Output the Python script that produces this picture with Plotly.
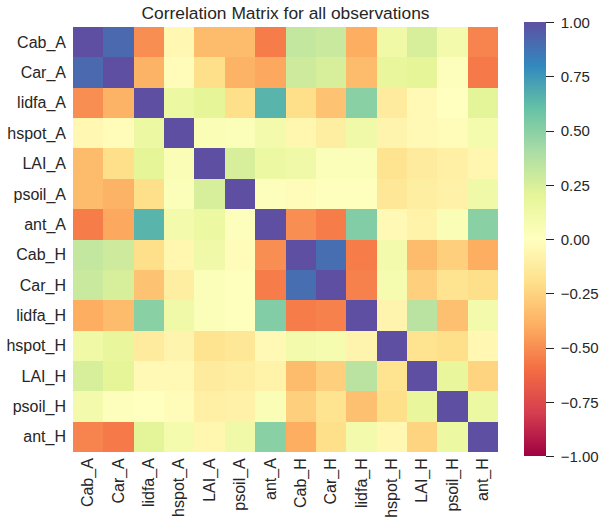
import plotly.graph_objects as go

variables = ["Cab_A", "Car_A", "lidfa_A", "hspot_A", "LAI_A", "psoil_A", "ant_A",
             "Cab_H", "Car_H", "lidfa_H", "hspot_H", "LAI_H", "psoil_H", "ant_H"]

# Pairwise Pearson correlations, one row per variable
corr_Cab_A   = [1.00, 0.91, -0.50, -0.05, -0.35, -0.35, -0.55, 0.32, 0.30, -0.40, 0.13, 0.25, 0.10, -0.53]
corr_Car_A   = [0.91, 1.00, -0.38, -0.02, -0.20, -0.38, -0.42, 0.28, 0.25, -0.35, 0.18, 0.20, 0.02, -0.56]
corr_lidfa_A = [-0.50, -0.38, 1.00, 0.15, 0.20, -0.20, 0.65, -0.20, -0.32, 0.50, -0.13, -0.04, 0.00, 0.21]
corr_hspot_A = [-0.05, -0.02, 0.15, 1.00, 0.05, 0.03, 0.10, -0.06, -0.11, 0.12, -0.07, -0.04, -0.02, 0.09]
corr_LAI_A   = [-0.35, -0.20, 0.20, 0.05, 1.00, 0.25, 0.15, 0.12, 0.03, 0.03, -0.18, -0.13, -0.10, -0.06]
corr_psoil_A = [-0.35, -0.38, -0.20, 0.03, 0.25, 1.00, 0.02, -0.02, 0.01, 0.01, -0.15, -0.11, -0.09, 0.12]
corr_ant_A   = [-0.55, -0.42, 0.65, 0.10, 0.15, 0.02, 1.00, -0.50, -0.55, 0.52, -0.04, -0.08, 0.05, 0.50]
corr_Cab_H   = [0.32, 0.28, -0.20, -0.06, 0.12, -0.02, -0.50, 1.00, 0.89, -0.55, 0.10, -0.35, -0.27, -0.40]
corr_Car_H   = [0.30, 0.25, -0.32, -0.11, 0.03, 0.01, -0.55, 0.89, 1.00, -0.54, 0.08, -0.27, -0.18, -0.20]
corr_lidfa_H = [-0.40, -0.35, 0.50, 0.12, 0.03, 0.01, 0.52, -0.55, -0.54, 1.00, -0.07, 0.35, -0.33, 0.10]
corr_hspot_H = [0.13, 0.18, -0.13, -0.07, -0.18, -0.15, -0.04, 0.10, 0.08, -0.07, 1.00, -0.18, -0.20, -0.05]
corr_LAI_H   = [0.25, 0.20, -0.04, -0.04, -0.13, -0.11, -0.08, -0.35, -0.27, 0.35, -0.18, 1.00, 0.18, -0.25]
corr_psoil_H = [0.10, 0.02, 0.00, -0.02, -0.10, -0.09, 0.05, -0.27, -0.18, -0.33, -0.20, 0.18, 1.00, 0.15]
corr_ant_H   = [-0.53, -0.56, 0.21, 0.09, -0.06, 0.12, 0.50, -0.40, -0.20, 0.10, -0.05, -0.25, 0.15, 1.00]

matrix = [corr_Cab_A, corr_Car_A, corr_lidfa_A, corr_hspot_A, corr_LAI_A, corr_psoil_A, corr_ant_A,
          corr_Cab_H, corr_Car_H, corr_lidfa_H, corr_hspot_H, corr_LAI_H, corr_psoil_H, corr_ant_H]

colorbar_ticks = [-1.0, -0.75, -0.5, -0.25, 0.0, 0.25, 0.5, 0.75, 1.0]
# two-decimal labels with a typographic minus, padded slightly away from the tick marks
colorbar_labels = ["\u00a0" + f"{v:.2f}".replace("-", "\u2212") for v in colorbar_ticks]

spectral = ["#9e0142", "#d53e4f", "#f46d43", "#fdae61", "#fee08b", "#ffffbf",
            "#e6f598", "#abdda4", "#66c2a5", "#3288bd", "#5e4fa2"]
colorscale = [[i / (len(spectral) - 1), c] for i, c in enumerate(spectral)]

text_color = "#262626"
font_family = "Liberation Sans, Arial, sans-serif"

fig = go.Figure(
    go.Heatmap(
        z=matrix,
        x=variables,
        y=variables,
        zmin=-1,
        zmax=1,
        colorscale=colorscale,
        colorbar=dict(
            tickvals=colorbar_ticks,
            ticktext=colorbar_labels,
            ticks="outside",
            ticklen=8,
            tickwidth=1.2,
            tickcolor=text_color,
            tickfont=dict(size=15, color=text_color, family=font_family),
            thickness=22,
            len=434,
            lenmode="pixels",
            x=(524 - 73) / 425,
            xanchor="left",
            xpad=0,
            y=0.5,
            yanchor="middle",
            ypad=0,
            outlinewidth=0,
        ),
        hovertemplate="%{y} / %{x}: %{z:.2f}<extra></extra>",
    )
)

fig.update_layout(
    width=601,
    height=519,
    margin=dict(l=73, r=103, t=27, b=67, autoexpand=False),
    paper_bgcolor="white",
    plot_bgcolor="white",
    font=dict(family=font_family, color=text_color),
    title=dict(
        text="Correlation Matrix for all observations",
        x=(73 + 212.5) / 601,
        xanchor="center",
        y=1 - 13 / 519,
        yanchor="middle",
        font=dict(size=17.4, color=text_color, family=font_family),
    ),
)

fig.update_xaxes(
    tickangle=-90,
    tickfont=dict(size=16, color=text_color),
    showgrid=False,
    zeroline=False,
    ticks="",
    automargin=False,
    ticklabelstandoff=2,
)
fig.update_yaxes(
    autorange="reversed",
    tickfont=dict(size=16, color=text_color),
    showgrid=False,
    zeroline=False,
    ticks="",
    automargin=False,
    ticklabelstandoff=6,
)

fig.write_html("out.html")
